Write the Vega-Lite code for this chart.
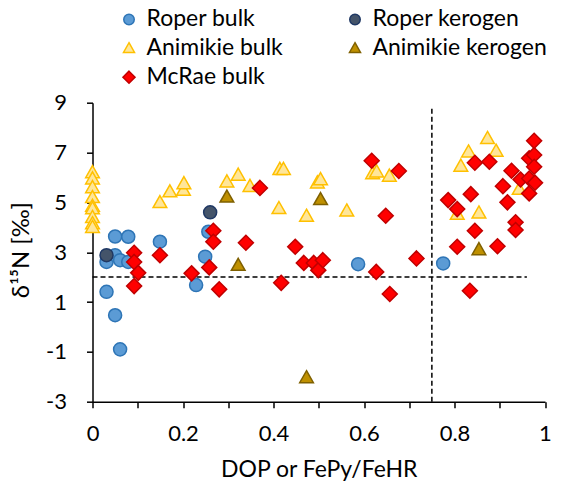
{
  "$schema": "https://vega.github.io/schema/vega-lite/v6.json",
  "width": 452.5,
  "height": 299,
  "autosize": {"type": "none"},
  "padding": {"left": 92.5, "top": 102.7, "right": 22, "bottom": 80},
  "background": "white",
  "config": {
    "view": {"stroke": null},
    "font": "Lato",
    "axis": {
      "grid": false,
      "domainColor": "black",
      "domainWidth": 1.5,
      "tickColor": "black",
      "tickWidth": 1.5,
      "tickSize": 6,
      "labelFont": "Lato",
      "labelFontSize": 22,
      "labelColor": "black",
      "titleFont": "Lato",
      "titleFontSize": 23,
      "titleFontWeight": "normal",
      "titleColor": "black"
    }
  },
  "layer": [
    {
      "data": {"values": [{"x": 0, "x2": 0.96, "y": 2}]},
      "mark": {"type": "rule", "color": "black", "strokeWidth": 1.5, "strokeDash": [5, 3]},
      "encoding": {
        "x": {"field": "x", "type": "quantitative"},
        "x2": {"field": "x2"},
        "y": {"field": "y", "type": "quantitative"}
      }
    },
    {
      "data": {"values": [{"x": 0.75, "y": -3, "y2": 8.85}]},
      "mark": {"type": "rule", "color": "black", "strokeWidth": 1.5, "strokeDash": [5, 3]},
      "encoding": {
        "x": {"field": "x", "type": "quantitative"},
        "y": {"field": "y", "type": "quantitative"},
        "y2": {"field": "y2"}
      }
    },
    {
      "data": {"values": [
        {"s": "Roper bulk", "x": 0.031, "y": 2.61},
        {"s": "Roper bulk", "x": 0.05, "y": 2.88},
        {"s": "Roper bulk", "x": 0.061, "y": 2.68},
        {"s": "Roper bulk", "x": 0.05, "y": 3.63},
        {"s": "Roper bulk", "x": 0.079, "y": 3.62},
        {"s": "Roper bulk", "x": 0.079, "y": 2.61},
        {"s": "Roper bulk", "x": 0.149, "y": 3.42},
        {"s": "Roper bulk", "x": 0.031, "y": 1.41},
        {"s": "Roper bulk", "x": 0.05, "y": 0.47},
        {"s": "Roper bulk", "x": 0.061, "y": -0.9},
        {"s": "Roper bulk", "x": 0.249, "y": 2.82},
        {"s": "Roper bulk", "x": 0.256, "y": 3.82},
        {"s": "Roper bulk", "x": 0.229, "y": 1.68},
        {"s": "Roper bulk", "x": 0.587, "y": 2.52},
        {"s": "Roper bulk", "x": 0.775, "y": 2.55},
        {"s": "Roper kerogen", "x": 0.031, "y": 2.88},
        {"s": "Roper kerogen", "x": 0.26, "y": 4.6},
        {"s": "Animikie bulk", "x": 0, "y": 6.2},
        {"s": "Animikie bulk", "x": 0, "y": 5.95},
        {"s": "Animikie bulk", "x": 0, "y": 5.6},
        {"s": "Animikie bulk", "x": 0, "y": 5.2},
        {"s": "Animikie bulk", "x": 0, "y": 4.85},
        {"s": "Animikie bulk", "x": 0, "y": 4.75},
        {"s": "Animikie bulk", "x": 0, "y": 4.4},
        {"s": "Animikie bulk", "x": 0, "y": 4.15},
        {"s": "Animikie bulk", "x": 0, "y": 4.0},
        {"s": "Animikie bulk", "x": 0.149, "y": 5.0},
        {"s": "Animikie bulk", "x": 0.171, "y": 5.43},
        {"s": "Animikie bulk", "x": 0.201, "y": 5.49},
        {"s": "Animikie bulk", "x": 0.202, "y": 5.76},
        {"s": "Animikie bulk", "x": 0.297, "y": 5.83},
        {"s": "Animikie bulk", "x": 0.322, "y": 6.1},
        {"s": "Animikie bulk", "x": 0.348, "y": 5.65},
        {"s": "Animikie bulk", "x": 0.414, "y": 6.33},
        {"s": "Animikie bulk", "x": 0.422, "y": 6.33},
        {"s": "Animikie bulk", "x": 0.497, "y": 5.79},
        {"s": "Animikie bulk", "x": 0.504, "y": 5.92},
        {"s": "Animikie bulk", "x": 0.412, "y": 4.76},
        {"s": "Animikie bulk", "x": 0.473, "y": 4.45},
        {"s": "Animikie bulk", "x": 0.562, "y": 4.66},
        {"s": "Animikie bulk", "x": 0.619, "y": 6.16},
        {"s": "Animikie bulk", "x": 0.628, "y": 6.23},
        {"s": "Animikie bulk", "x": 0.656, "y": 6.06},
        {"s": "Animikie bulk", "x": 0.873, "y": 7.57},
        {"s": "Animikie bulk", "x": 0.831, "y": 7.03},
        {"s": "Animikie bulk", "x": 0.892, "y": 7.06},
        {"s": "Animikie bulk", "x": 0.814, "y": 6.46},
        {"s": "Animikie bulk", "x": 0.943, "y": 5.53},
        {"s": "Animikie bulk", "x": 0.806, "y": 4.53},
        {"s": "Animikie bulk", "x": 0.854, "y": 4.58},
        {"s": "Animikie kerogen", "x": 0.297, "y": 5.22},
        {"s": "Animikie kerogen", "x": 0.322, "y": 2.48},
        {"s": "Animikie kerogen", "x": 0.504, "y": 5.12},
        {"s": "Animikie kerogen", "x": 0.473, "y": -2.03},
        {"s": "Animikie kerogen", "x": 0.854, "y": 3.11},
        {"s": "McRae bulk", "x": 0.092, "y": 2.98},
        {"s": "McRae bulk", "x": 0.092, "y": 2.61},
        {"s": "McRae bulk", "x": 0.101, "y": 2.17},
        {"s": "McRae bulk", "x": 0.092, "y": 1.64},
        {"s": "McRae bulk", "x": 0.149, "y": 2.88},
        {"s": "McRae bulk", "x": 0.219, "y": 2.15},
        {"s": "McRae bulk", "x": 0.267, "y": 3.86},
        {"s": "McRae bulk", "x": 0.267, "y": 3.42},
        {"s": "McRae bulk", "x": 0.258, "y": 2.39},
        {"s": "McRae bulk", "x": 0.28, "y": 1.51},
        {"s": "McRae bulk", "x": 0.339, "y": 3.38},
        {"s": "McRae bulk", "x": 0.37, "y": 5.58},
        {"s": "McRae bulk", "x": 0.417, "y": 1.77},
        {"s": "McRae bulk", "x": 0.448, "y": 3.22},
        {"s": "McRae bulk", "x": 0.467, "y": 2.57},
        {"s": "McRae bulk", "x": 0.489, "y": 2.57},
        {"s": "McRae bulk", "x": 0.499, "y": 2.28},
        {"s": "McRae bulk", "x": 0.509, "y": 2.68},
        {"s": "McRae bulk", "x": 0.617, "y": 6.67},
        {"s": "McRae bulk", "x": 0.677, "y": 6.26},
        {"s": "McRae bulk", "x": 0.648, "y": 4.46},
        {"s": "McRae bulk", "x": 0.627, "y": 2.21},
        {"s": "McRae bulk", "x": 0.657, "y": 1.32},
        {"s": "McRae bulk", "x": 0.716, "y": 2.75},
        {"s": "McRae bulk", "x": 0.834, "y": 1.45},
        {"s": "McRae bulk", "x": 0.806, "y": 3.22},
        {"s": "McRae bulk", "x": 0.845, "y": 3.86},
        {"s": "McRae bulk", "x": 0.895, "y": 3.24},
        {"s": "McRae bulk", "x": 0.935, "y": 4.2},
        {"s": "McRae bulk", "x": 0.935, "y": 3.89},
        {"s": "McRae bulk", "x": 0.786, "y": 5.09},
        {"s": "McRae bulk", "x": 0.806, "y": 4.73},
        {"s": "McRae bulk", "x": 0.836, "y": 5.33},
        {"s": "McRae bulk", "x": 0.845, "y": 6.59},
        {"s": "McRae bulk", "x": 0.877, "y": 6.63},
        {"s": "McRae bulk", "x": 0.907, "y": 5.65},
        {"s": "McRae bulk", "x": 0.917, "y": 5.0},
        {"s": "McRae bulk", "x": 0.926, "y": 6.27},
        {"s": "McRae bulk", "x": 0.946, "y": 5.92},
        {"s": "McRae bulk", "x": 0.965, "y": 5.96},
        {"s": "McRae bulk", "x": 0.965, "y": 5.36},
        {"s": "McRae bulk", "x": 0.978, "y": 5.79},
        {"s": "McRae bulk", "x": 0.965, "y": 6.77},
        {"s": "McRae bulk", "x": 0.976, "y": 6.9},
        {"s": "McRae bulk", "x": 0.976, "y": 6.43},
        {"s": "McRae bulk", "x": 0.976, "y": 7.47}
      ]},
      "mark": {"type": "point", "filled": true, "size": 170, "strokeWidth": 1.5, "opacity": 1},
      "encoding": {
        "x": {
          "field": "x", "type": "quantitative",
          "scale": {"domain": [0, 1], "nice": false, "zero": false},
          "axis": {
            "title": "DOP or FePy/FeHR",
            "values": [0, 0.1, 0.2, 0.3, 0.4, 0.5, 0.6, 0.7, 0.8, 0.9, 1],
            "labelExpr": "round(datum.value * 10) % 2 == 0 ? toString(round(datum.value * 10) / 10) : ''",
            "labelPadding": 16,
            "titlePadding": 14,
            "labelFlush": false
          }
        },
        "y": {
          "field": "y", "type": "quantitative",
          "scale": {"domain": [-3, 9], "nice": false, "zero": false},
          "axis": {
            "title": "δ¹⁵N [‰]",
            "values": [-3, -2, -1, 0, 1, 2, 3, 4, 5, 6, 7, 8, 9],
            "labelExpr": "datum.value % 2 != 0 ? toString(datum.value) : ''",
            "labelPadding": 20,
            "labelFlush": false,
            "titleX": -71,
            "titleY": 147,
            "titleFontSize": 24,
            "titleAngle": -90,
            "titleAlign": "center",
            "titleBaseline": "middle"
          }
        },
        "fill": {
          "field": "s", "type": "nominal",
          "scale": {
            "domain": ["Roper bulk", "Roper kerogen", "Animikie bulk", "Animikie kerogen", "McRae bulk"],
            "range": ["#5B9BD5", "#44546A", "#FFE699", "#BF9000", "#FF0000"]
          },
          "legend": {
            "title": null,
            "orient": "none",
            "legendX": 25,
            "legendY": -95,
            "columns": 2,
            "direction": "horizontal",
            "columnPadding": 60,
            "rowPadding": 5,
            "labelFont": "Lato",
            "labelFontSize": 23,
            "labelLimit": 400,
            "labelColor": "black",
            "labelOffset": 6,
            "symbolSize": 110,
            "symbolStrokeWidth": 1.5,
            "padding": 0
          }
        },
        "stroke": {
          "field": "s", "type": "nominal",
          "scale": {
            "domain": ["Roper bulk", "Roper kerogen", "Animikie bulk", "Animikie kerogen", "McRae bulk"],
            "range": ["#2E75B6", "#1F3864", "#FFC000", "#7F6000", "#C00000"]
          }
        },
        "shape": {
          "field": "s", "type": "nominal",
          "scale": {
            "domain": ["Roper bulk", "Roper kerogen", "Animikie bulk", "Animikie kerogen", "McRae bulk"],
            "range": ["circle", "circle", "M0,-1.05L1.05,0.8L-1.05,0.8Z", "M0,-1.05L1.05,0.8L-1.05,0.8Z", "M0,-1.15L1.15,0L0,1.15L-1.15,0Z"]
          }
        }
      }
    }
  ]
}
